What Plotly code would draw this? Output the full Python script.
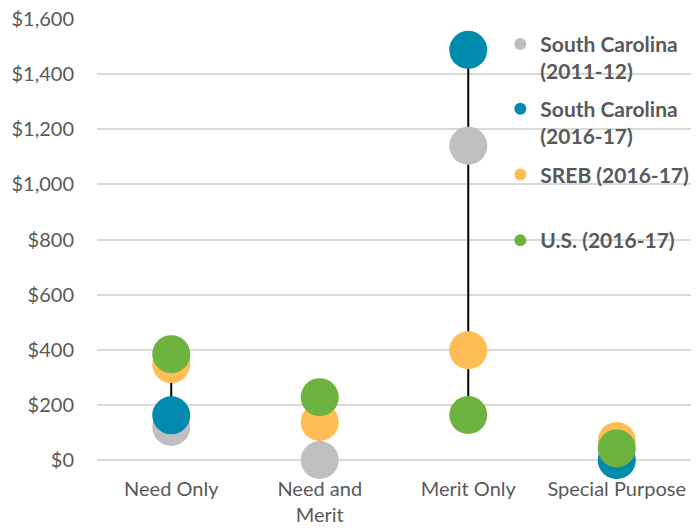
import plotly.graph_objects as go

categories = ["Need Only", "Need and<br>Merit", "Merit Only", "Special Purpose"]
series_names = ["South Carolina<br>(2011-12)", "South Carolina<br>(2016-17)", "SREB (2016-17)", "U.S. (2016-17)"]
sc_2011 = [120, 0, 1140, 0]
sc_2016 = [162, None, 1488, 0]
sreb_2016 = [348, 138, 398, 69]
us_2016 = [384, 228, 163, 42]
colors = ["#BFBFBF", "#008AAE", "#FFBE55", "#6DB33F"]
y_ticks = [0, 200, 400, 600, 800, 1000, 1200, 1400, 1600]
y_tick_text = ["$0", "$200", "$400", "$600", "$800", "$1,000", "$1,200", "$1,400", "$1,600"]

all_series = [sc_2011, sc_2016, sreb_2016, us_2016]
FONT = "Lato"
TXT = "#595959"

fig = go.Figure()

# connector lines (min to max per category)
lx, ly = [], []
for i, c in enumerate(categories):
    vals = [s[i] for s in all_series if s[i] is not None]
    lx += [c, c, None]
    ly += [min(vals), max(vals), None]
fig.add_trace(go.Scatter(x=lx, y=ly, mode="lines", line=dict(color="black", width=2),
                         showlegend=False, hoverinfo="skip", cliponaxis=False))

legend_ids = ["legend", "legend2", "legend3", "legend4"]
for name, vals, col, lg in zip(series_names, all_series, colors, legend_ids):
    fig.add_trace(go.Scatter(x=categories, y=vals, mode="markers", name=name,
                             marker=dict(color=col, size=38, line=dict(width=0)),
                             cliponaxis=False, legend=lg))

legend_y = [0.989, 0.842, 0.693, 0.544]
common_legend = dict(x=0.679, xanchor="left", yanchor="top", bgcolor="rgba(0,0,0,0)",
                     font=dict(family=FONT, size=21, color=TXT, weight="bold"),
                     itemsizing="constant", valign="top")
layout_legends = {}
for lg, ly_ in zip(legend_ids, legend_y):
    layout_legends[lg] = dict(common_legend, y=ly_)

fig.update_layout(
    width=699, height=532,
    margin=dict(l=97, r=8, t=19, b=72, autoexpand=False),
    paper_bgcolor="white", plot_bgcolor="white",
    font=dict(family=FONT, size=18, color=TXT),
    showlegend=True,
    xaxis=dict(type="category", range=[-0.5, 3.5], showgrid=False, showline=False,
               zeroline=False, ticks="outside", ticklen=11, tickcolor="rgba(0,0,0,0)",
               tickfont=dict(family=FONT, size=20, color=TXT)),
    yaxis=dict(range=[0, 1600], tickvals=y_ticks, ticktext=y_tick_text,
               showgrid=True, gridcolor="#D9D9D9", gridwidth=1.5,
               zeroline=True, zerolinecolor="#D9D9D9", zerolinewidth=1.5,
               showline=False, ticks="outside", ticklen=18, tickcolor="rgba(0,0,0,0)",
               tickfont=dict(family=FONT, size=20, color=TXT)),
    **layout_legends,
)

fig.write_html("out.html")
